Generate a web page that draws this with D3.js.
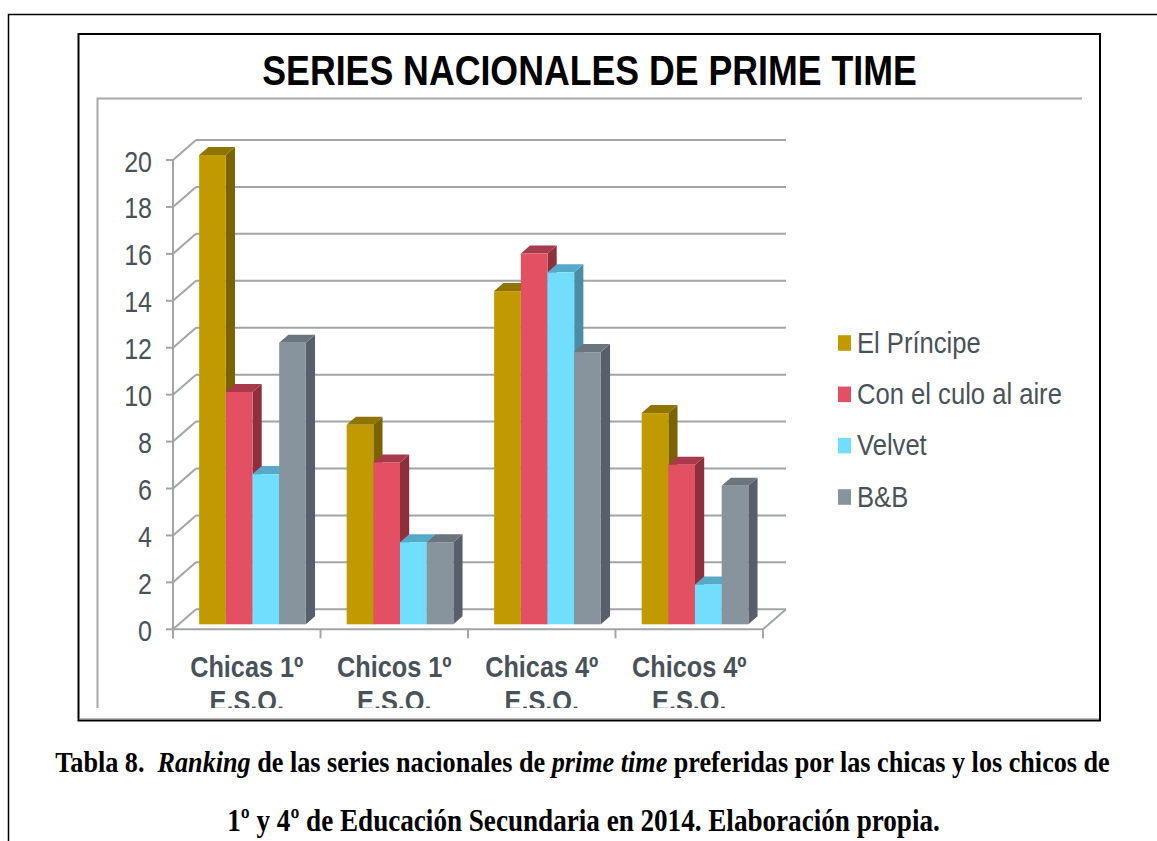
<!DOCTYPE html>
<html>
<head>
<meta charset="utf-8">
<script src="https://cdn.jsdelivr.net/npm/d3@7"></script>
<style>
  body { margin: 0; background: #fff; }
  svg { display: block; }
</style>
</head>
<body>
<svg id="chart" width="1157" height="841"></svg>
<script>
// data
const categories = ["Chicas 1º E.S.O.", "Chicos 1º E.S.O.", "Chicas 4º E.S.O.", "Chicos 4º E.S.O."];
const categoryLines = [["Chicas 1º", "E.S.O."], ["Chicos 1º", "E.S.O."], ["Chicas 4º", "E.S.O."], ["Chicos 4º", "E.S.O."]];
const seriesNames = ["El Príncipe", "Con el culo al aire", "Velvet", "B&B"];
const elPrincipe = [20, 8.5, 14.2, 9];
const conElCulo = [9.9, 6.9, 15.8, 6.8];
const velvet = [6.4, 3.5, 15, 1.7];
const bAndB = [12, 3.5, 11.6, 5.9];
const yTicks = [0, 2, 4, 6, 8, 10, 12, 14, 16, 18, 20];

const seriesValues = [elPrincipe, conElCulo, velvet, bAndB];
const faceColors = [
  { front: "#c09a00", top: "#8f7500", side: "#7a6300" },
  { front: "#e35064", top: "#a83b4b", side: "#8e2f3c" },
  { front: "#70defc", top: "#55aaca", side: "#4a8da5" },
  { front: "#87949e", top: "#6a757d", side: "#57606a" }
];

const svg = d3.select("#chart");
const STRETCH = 1.16;       // the picture is a bit taller than wide
const textCol = "#4a5259";
const gridCol = "#a2a4a6";

// page frame
svg.append("path")
  .attr("d", "M8.5,841 V14.5 H1157")
  .attr("fill", "none").attr("stroke", "#000").attr("stroke-width", 1.5);

// chart box
svg.append("line").attr("x1", 80).attr("x2", 1100).attr("y1", 718.5).attr("y2", 718.5)
  .attr("stroke", "#bbb").attr("stroke-width", 1);
svg.append("rect")
  .attr("x", 78.5).attr("y", 34).attr("width", 1021.5).attr("height", 686.5)
  .attr("fill", "none").attr("stroke", "#000").attr("stroke-width", 2);

// title
svg.append("text")
  .attr("transform", `translate(589.5,85) scale(1,1.17)`)
  .attr("text-anchor", "middle")
  .style("font-family", "'Liberation Sans', Arial, sans-serif")
  .style("font-weight", "bold")
  .style("font-size", "35.7px")
  .attr("fill", "#000")
  .text("SERIES NACIONALES DE PRIME TIME");

// plot area frame (top and left only)
svg.append("path")
  .attr("d", "M97.5,708 V98.5 H1082")
  .attr("fill", "none").attr("stroke", "#a8a8a8").attr("stroke-width", 2);

svg.append("defs").append("clipPath").attr("id", "plotClip")
  .append("rect").attr("x", 97).attr("y", 98).attr("width", 985).attr("height", 610);

// scales
const y = d3.scaleLinear().domain([0, 20]).range([629.3, 160]);
const x0 = d3.scaleBand().domain(categories).range([173, 763]);
const x1 = d3.scaleBand().domain(seriesNames).range([0, x0.bandwidth()]).paddingOuter(0.765);

// 3d depth
const DX = 23, DY = 20;
const Z0 = 0.25, Z1 = 0.65;
const px = (x, z) => x + z * DX;
const py = (v, z) => y(v) - z * DY;

const plot = svg.append("g").attr("clip-path", "url(#plotClip)");

// back wall gridlines and left wall diagonals
const xLeft = x0.range()[0], xRight = x0.range()[1];
plot.append("g").selectAll("line.grid")
  .data(yTicks)
  .join("line")
    .attr("x1", px(xLeft, 1)).attr("x2", px(xRight, 1))
    .attr("y1", d => py(d, 1)).attr("y2", d => py(d, 1))
    .attr("stroke", gridCol).attr("stroke-width", 2);
plot.append("g").selectAll("line.diag")
  .data(yTicks)
  .join("line")
    .attr("x1", px(xLeft, 0)).attr("x2", px(xLeft, 1))
    .attr("y1", d => py(d, 0)).attr("y2", d => py(d, 1))
    .attr("stroke", gridCol).attr("stroke-width", 2);
// floor front edge and right edge
plot.append("path")
  .attr("d", `M${px(xLeft,0)},${py(0,0)} H${px(xRight,0)} L${px(xRight,1)},${py(0,1)}`)
  .attr("fill", "none").attr("stroke", gridCol).attr("stroke-width", 2);

// bars
const barData = [];
categories.forEach((c, ci) => {
  seriesNames.forEach((s, si) => {
    barData.push({ cat: c, series: s, si: si, value: seriesValues[si][ci] });
  });
});

const w = x1.bandwidth();
const bars = plot.append("g").selectAll("g.bar")
  .data(barData)
  .join("g").attr("class", "bar");

bars.append("path")
  .attr("d", d => {
    const xb = x0(d.cat) + x1(d.series) + w;
    return `M${px(xb,Z0)},${py(d.value,Z0)} L${px(xb,Z1)},${py(d.value,Z1)} L${px(xb,Z1)},${py(0,Z1)} L${px(xb,Z0)},${py(0,Z0)} Z`;
  })
  .attr("fill", d => faceColors[d.si].side);
bars.append("path")
  .attr("d", d => {
    const xa = x0(d.cat) + x1(d.series);
    return `M${px(xa,Z0)},${py(d.value,Z0)} L${px(xa,Z1)},${py(d.value,Z1)} L${px(xa+w,Z1)},${py(d.value,Z1)} L${px(xa+w,Z0)},${py(d.value,Z0)} Z`;
  })
  .attr("fill", d => faceColors[d.si].top);
bars.append("rect")
  .attr("x", d => px(x0(d.cat) + x1(d.series), Z0))
  .attr("y", d => py(d.value, Z0))
  .attr("width", w)
  .attr("height", d => py(0, Z0) - py(d.value, Z0))
  .attr("fill", d => faceColors[d.si].front);

// front value axis
plot.append("line")
  .attr("x1", xLeft).attr("x2", xLeft).attr("y1", y(20)).attr("y2", y(0) + 9)
  .attr("stroke", gridCol).attr("stroke-width", 2);
plot.append("g").selectAll("line")
  .data(yTicks)
  .join("line")
    .attr("x1", xLeft - 7).attr("x2", xLeft)
    .attr("y1", d => y(d)).attr("y2", d => y(d))
    .attr("stroke", gridCol).attr("stroke-width", 2);
plot.append("g").selectAll("text")
  .data(yTicks)
  .join("text")
    .attr("transform", d => `translate(152,${y(d) + 11.5}) scale(1,${STRETCH})`)
    .attr("text-anchor", "end")
    .style("font-family", "'Liberation Sans', Arial, sans-serif")
    .style("font-size", "25px")
    .attr("fill", textCol)
    .text(d => d);

// category ticks and labels
const catTicks = categories.map(c => x0(c)).concat([xRight]);
plot.append("g").selectAll("line")
  .data(catTicks)
  .join("line")
    .attr("x1", d => d).attr("x2", d => d)
    .attr("y1", y(0)).attr("y2", y(0) + 9)
    .attr("stroke", gridCol).attr("stroke-width", 2);
const catLabels = plot.append("g").selectAll("g")
  .data(categories)
  .join("g");
catLabels.selectAll("text")
  .data((d, i) => categoryLines[i].map((t, li) => ({ t, li, cx: x0(d) + x0.bandwidth() / 2 })))
  .join("text")
    .attr("transform", d => `translate(${d.cx},${677 + d.li * 34}) scale(1,${STRETCH})`)
    .attr("text-anchor", "middle")
    .style("font-family", "'Liberation Sans', Arial, sans-serif")
    .style("font-weight", "bold")
    .style("font-size", "25.3px")
    .attr("fill", textCol)
    .text(d => d.t);

// legend
const ly = d3.scalePoint().domain(seriesNames).range([343, 497]);
const legend = svg.append("g").selectAll("g")
  .data(seriesNames)
  .join("g");
legend.append("rect")
  .attr("x", 838).attr("y", d => ly(d) - 7.8)
  .attr("width", 13).attr("height", 15.6)
  .attr("fill", (d, i) => faceColors[i].front);
legend.append("text")
  .attr("transform", d => `translate(857,${ly(d) + 9.5}) scale(1,${STRETCH})`)
  .style("font-family", "'Liberation Sans', Arial, sans-serif")
  .style("font-size", "25.6px")
  .attr("fill", textCol)
  .text(d => d);

// caption under the chart
const captionLines = [
  [["Tabla 8.\u00a0 ", false], ["Ranking", true], [" de las series nacionales de ", false], ["prime time", true], [" preferidas por las chicas y los chicos de", false]],
  [["1º y 4º de Educación Secundaria en 2014. Elaboración propia.", false]]
];
const captionY = [771.7, 830.7];
const captionWidth = [1055, 713];
const caps = svg.append("g").selectAll("text")
  .data(captionLines)
  .join("text")
    .attr("text-anchor", "middle")
    .style("font-family", "'Liberation Serif', 'Times New Roman', serif")
    .style("font-weight", "bold")
    .style("font-size", "20px")
    .style("white-space", "pre")
    .attr("fill", "#000");
caps.selectAll("tspan")
  .data(d => d)
  .join("tspan")
    .style("font-style", d => d[1] ? "italic" : "normal")
    .text(d => d[0]);
// fit each line to its width in the picture
caps.each(function(d, i) {
  const wNow = this.getComputedTextLength();
  d3.select(this)
    .style("font-size", (20 * captionWidth[i] / wNow) + "px")
    .attr("transform", `translate(${i === 0 ? 582.5 : 583.5},${captionY[i]}) scale(1,${STRETCH})`);
});
</script>
</body>
</html>
